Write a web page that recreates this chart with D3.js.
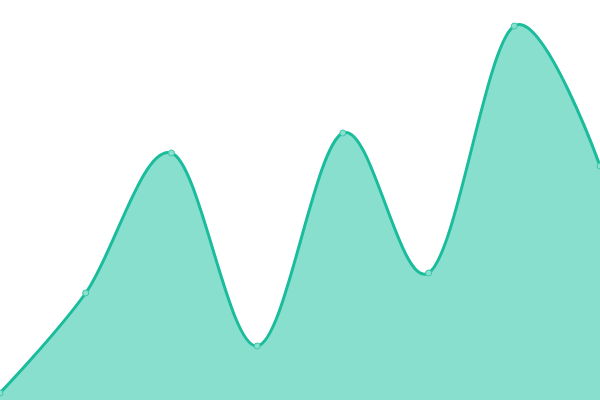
<!DOCTYPE html>
<html>
<head>
<meta charset="utf-8">
<script src="https://cdn.jsdelivr.net/npm/d3@7"></script>
<style>
  body { margin: 0; background: #fff; }
  svg { display: block; }
</style>
</head>
<body>
<svg id="chart" width="600" height="400"></svg>
<script>
// values, one per evenly spaced step
var steps = [0, 1, 2, 3, 4, 5, 6, 7];
var values = [7, 107, 247, 54, 267, 127, 374, 234];

var width = 600, height = 400;
var svg = d3.select("#chart");

var x = d3.scaleLinear().domain([0, steps.length - 1]).range([0, width]);
var y = d3.scaleLinear().domain([0, 400]).range([height, 0]);

var data = steps.map(function(s, i) { return { s: s, v: values[i] }; });

var area = d3.area()
  .x(function(d) { return x(d.s); })
  .y0(height)
  .y1(function(d) { return y(d.v); })
  .curve(d3.curveCardinal);

var line = d3.line()
  .x(function(d) { return x(d.s); })
  .y(function(d) { return y(d.v); })
  .curve(d3.curveCardinal);

svg.append("path").datum(data)
  .attr("d", area)
  .attr("fill", "#89dfce");

svg.append("path").datum(data)
  .attr("d", line)
  .attr("fill", "none")
  .attr("stroke", "#1abc9c")
  .attr("stroke-width", 3);

svg.selectAll("circle.dot").data(data).enter().append("circle")
  .attr("class", "dot")
  .attr("cx", function(d) { return x(d.s); })
  .attr("cy", function(d) { return y(d.v); })
  .attr("r", 3)
  .attr("fill", "#8ae0cf")
  .attr("stroke", "#3cc7aa")
  .attr("stroke-width", 1);
</script>
</body>
</html>
